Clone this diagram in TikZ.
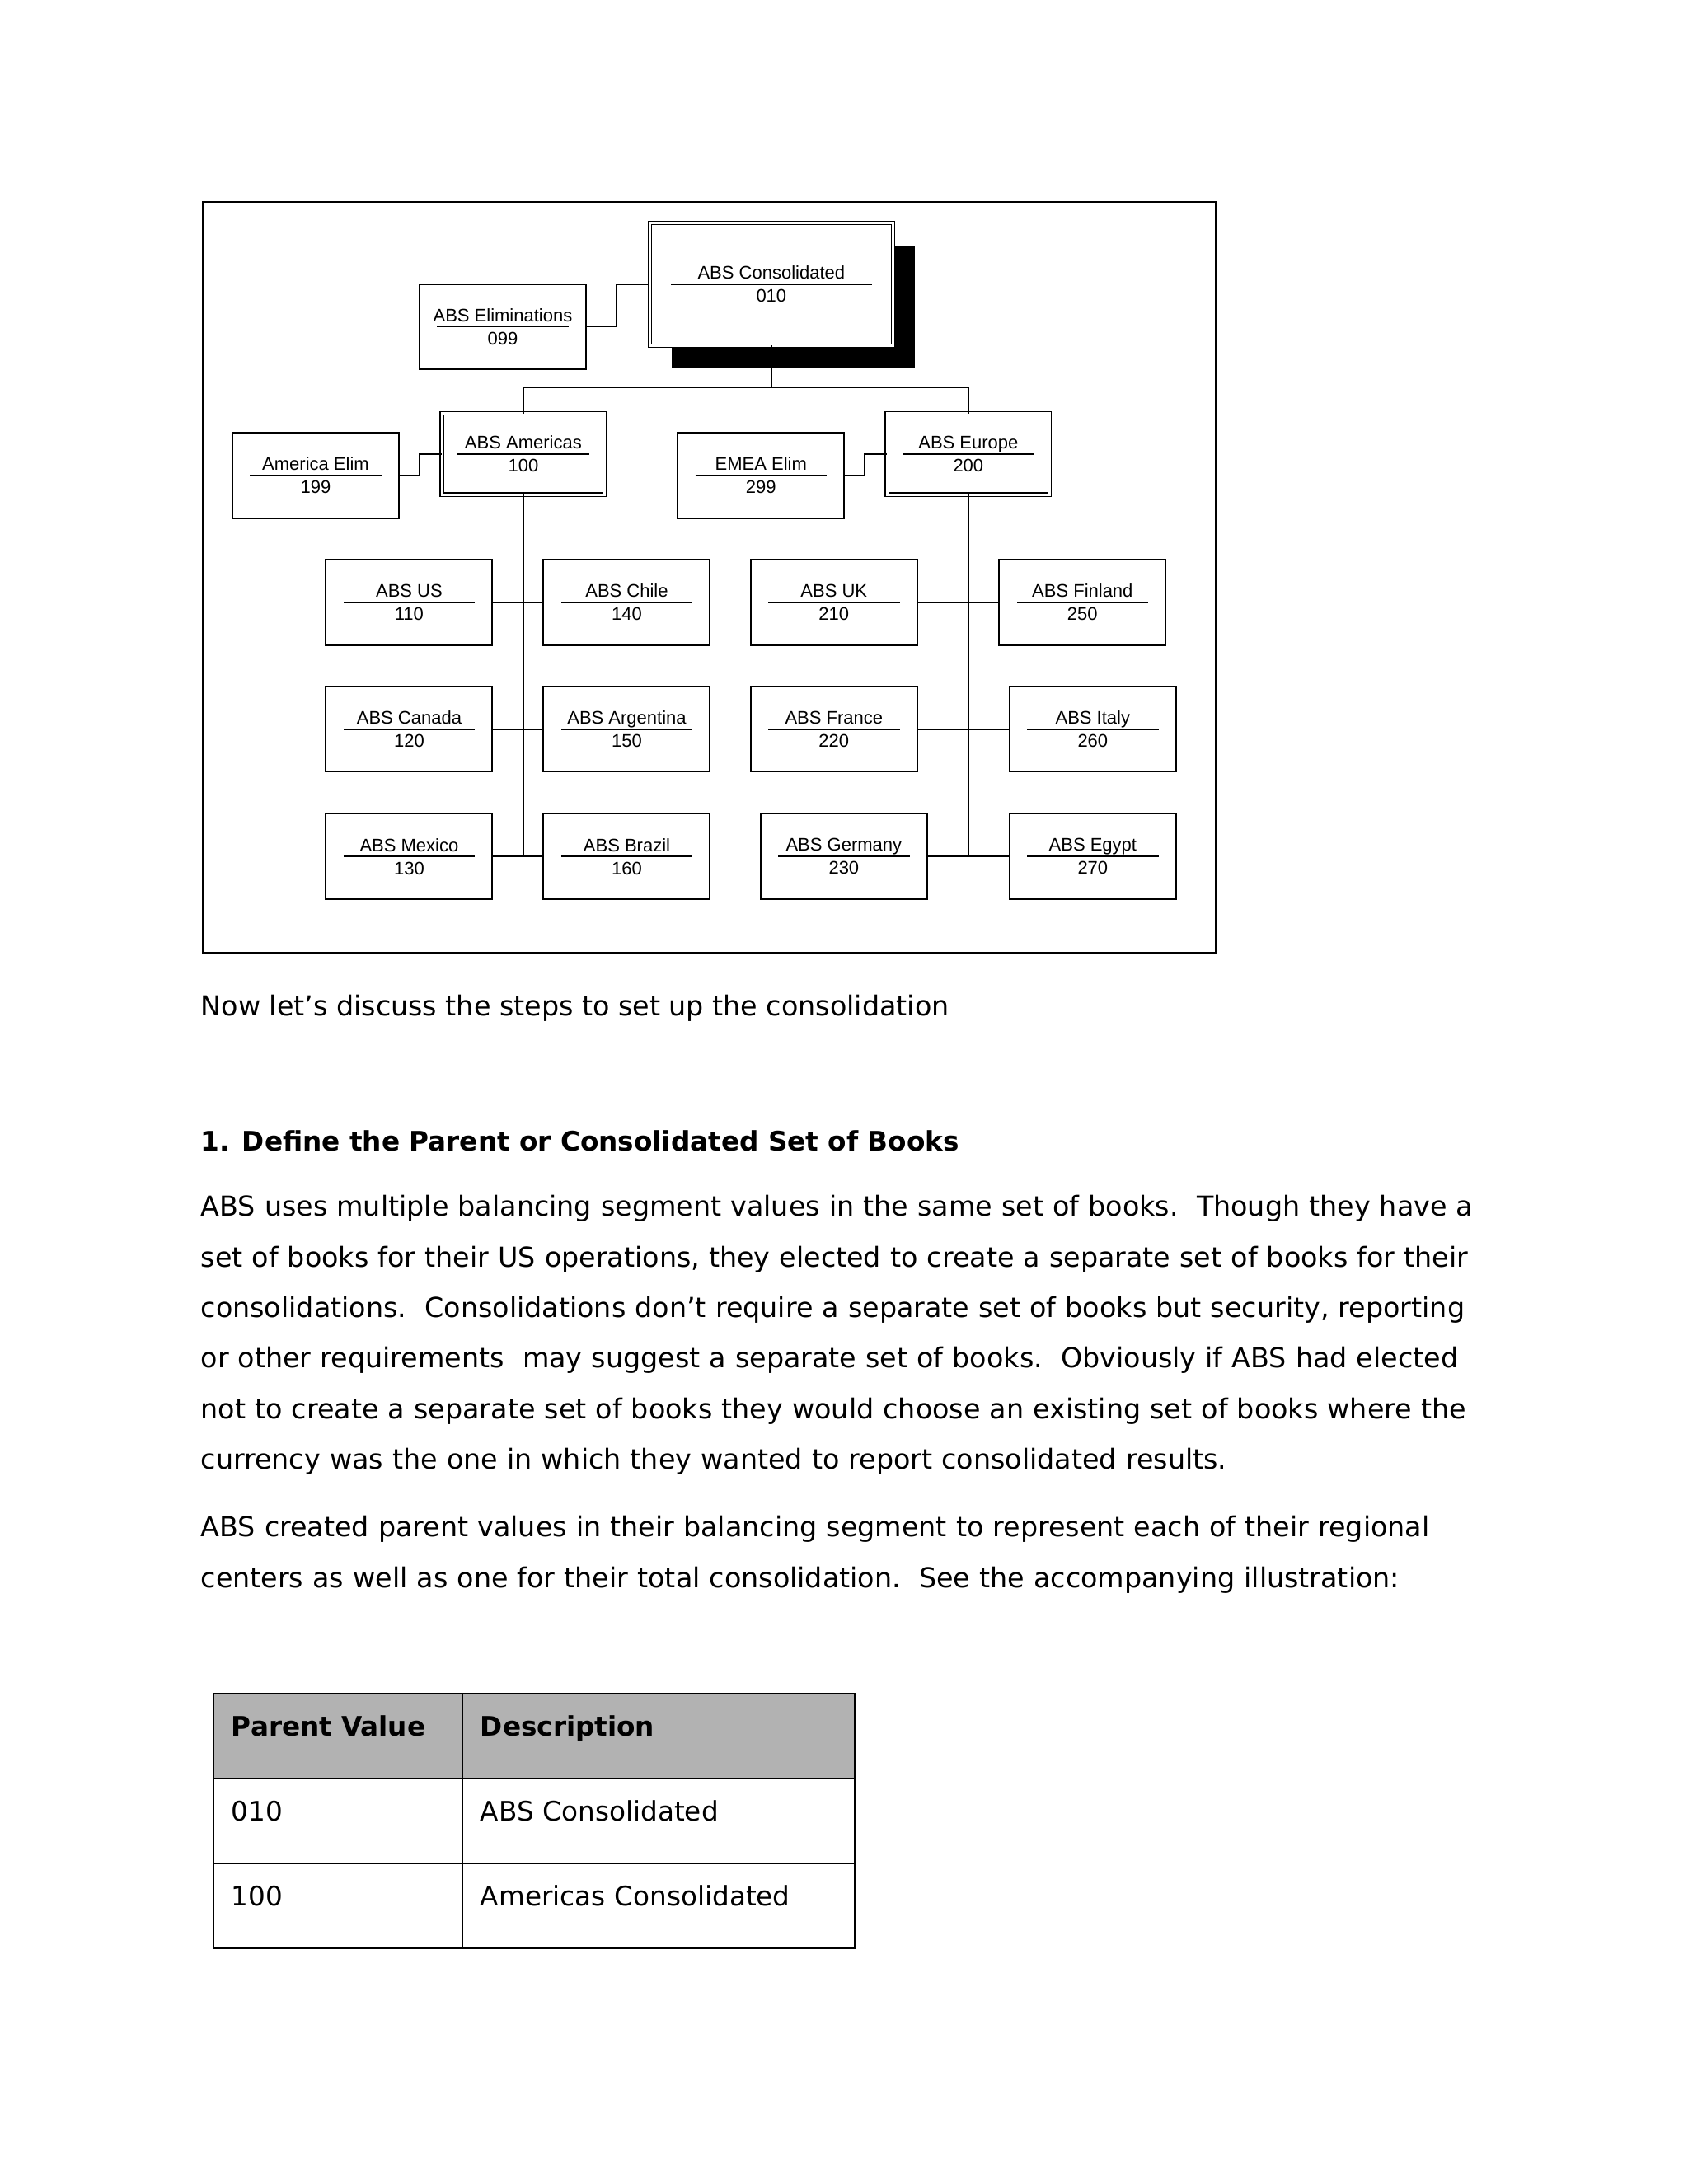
\documentclass[tikz,border=0pt]{standalone}
\usepackage{fontspec}
\setmainfont{DejaVu Sans}
\newfontfamily\chartfont{Liberation Sans}
\usetikzlibrary{positioning}
\usetikzlibrary{shadows}

\begin{document}
\begin{tikzpicture}[
			splitline/.style={path picture={\draw[line width=0.6pt] ([xshift=-#1]path picture bounding box.center) -- ([xshift=#1]path picture bounding box.center);}},
			unit/.style={draw, fill=white, line width=0.6pt, minimum width=2.13cm, minimum height=1.09cm, inner sep=0pt, outer sep=0pt, align=center, font=\chartfont\fontsize{6.6}{8.4}\selectfont, splitline=0.84cm},
			parent/.style={unit, double, line width=0.4pt, double distance=0.9pt, minimum width=2.08cm, minimum height=1.04cm},
			link/.style={line width=0.6pt},
			body/.style={anchor=base west, inner sep=0pt, font=\fontsize{10}{18.4}\selectfont},
			cell/.style={draw, line width=0.7pt, inner xsep=0.232cm, inner ysep=0pt, outer sep=0pt, text height=0.25cm, text depth=0.25cm, minimum height=1.086cm, anchor=north west, align=left, font=\fontsize{9.8}{12}\selectfont},
			head/.style={cell, fill=black!30, font=\fontsize{9.8}{12}\selectfont\bfseries}
			]
			\useasboundingbox (0,0) rectangle (21.59,-27.94);
			
			% Chart frame
			\draw[line width=0.6pt] (2.593,-2.583) rectangle (15.549,-12.187);
			
			% Top level
			\node[parent, minimum width=3.11cm, minimum height=1.57cm, splitline=1.29cm, drop shadow={shadow xshift=8.1pt, shadow yshift=-8.3pt, fill=black, opacity=1}] (consol) at (9.867,-3.637) {ABS Consolidated\\010};
			\node[unit] (elim) at (6.431,-4.180) {ABS Eliminations\\099};
			
			% Regions
			\node[parent] (amer) at (6.694,-5.809) {ABS Americas\\100};
			\node[parent] (euro) at (12.387,-5.809) {ABS Europe\\200};
			\node[unit] (amelim) at (4.038,-6.083) {America Elim\\199};
			\node[unit] (emeaelim) at (9.735,-6.083) {EMEA Elim\\299};
			
			% Americas companies
			\node[unit] (us) at (5.234,-7.706) {ABS US\\110};
			\node[unit, below=0.53cm of us] (canada) {ABS Canada\\120};
			\node[unit, below=0.54cm of canada] (mexico) {ABS Mexico\\130};
			\node[unit, right=0.654cm of us] (chile) {ABS Chile\\140};
			\node[unit, below=0.53cm of chile] (argentina) {ABS Argentina\\150};
			\node[unit, below=0.54cm of argentina] (brazil) {ABS Brazil\\160};
			
			% Europe companies
			\node[unit] (uk) at (10.668,-7.706) {ABS UK\\210};
			\node[unit, below=0.53cm of uk] (france) {ABS France\\220};
			\node[unit, below=0.54cm of france, xshift=0.127cm] (germany) {ABS Germany\\230};
			\node[unit] (finland) at (13.847,-7.706) {ABS Finland\\250};
			\node[unit, below=0.53cm of finland, xshift=0.132cm] (italy) {ABS Italy\\260};
			\node[unit, below=0.54cm of italy] (egypt) {ABS Egypt\\270};
			
			% Connections
			\draw[link] (elim.east) -- ++(0.39,0) |- (consol.west);
			\draw[link] (consol.south) -- ++(0,-0.537) coordinate (hub);
			\draw[link] (hub) -| (amer.north);
			\draw[link] (hub) -| (euro.north);
			\draw[link] (amelim.east) -- ++(0.26,0) |- (amer.west);
			\draw[link] (emeaelim.east) -- ++(0.26,0) |- (euro.west);
			\draw[link] (amer.south) |- (brazil.west);
			\draw[link] (euro.south) |- (egypt.west);
			\foreach \a/\b in {us/chile, canada/argentina, mexico/brazil, uk/finland, france/italy, germany/egypt}
			\draw[link] (\a) -- (\b);
			
			% Text
			\node[body] (intro) at (2.562,-12.998) {Now let’s discuss the steps to set up the consolidation};
			\node[body, font=\fontsize{9.8}{18.4}\selectfont\bfseries] (step1) at (2.562,-14.727) {1. Define the Parent or Consolidated Set of Books};
			\node[body, text width=18cm, align=left] (para1) at (2.562,-15.56) {ABS uses multiple balancing segment values in the same set of books.\ \ Though they have a\\
				set of books for their US operations, they elected to create a separate set of books for their\\
				consolidations.\ \ Consolidations don’t require a separate set of books but security, reporting\\
				or other requirements\ \ may suggest a separate set of books.\ \ Obviously if ABS had elected\\
				not to create a separate set of books they would choose an existing set of books where the\\
				currency was the one in which they wanted to report consolidated results.};
			\node[body, text width=18cm, align=left] (para2) at (2.562,-19.66) {ABS created parent values in their balancing segment to represent each of their regional\\
				centers as well as one for their total consolidation.\ \ See the accompanying illustration:};
			
			% Table
			\node[head, text width=2.72cm] (pv) at (2.730,-21.664) {Parent Value};
			\node[head, text width=4.554cm, right=0pt of pv] (desc) {Description};
			\node[cell, text width=2.72cm, below=0pt of pv] (v1) {010};
			\node[cell, text width=4.554cm, below=0pt of desc] (d1) {ABS Consolidated};
			\node[cell, text width=2.72cm, below=0pt of v1] (v2) {100};
			\node[cell, text width=4.554cm, below=0pt of d1] (d2) {Americas Consolidated};
		\end{tikzpicture}
\end{document}
